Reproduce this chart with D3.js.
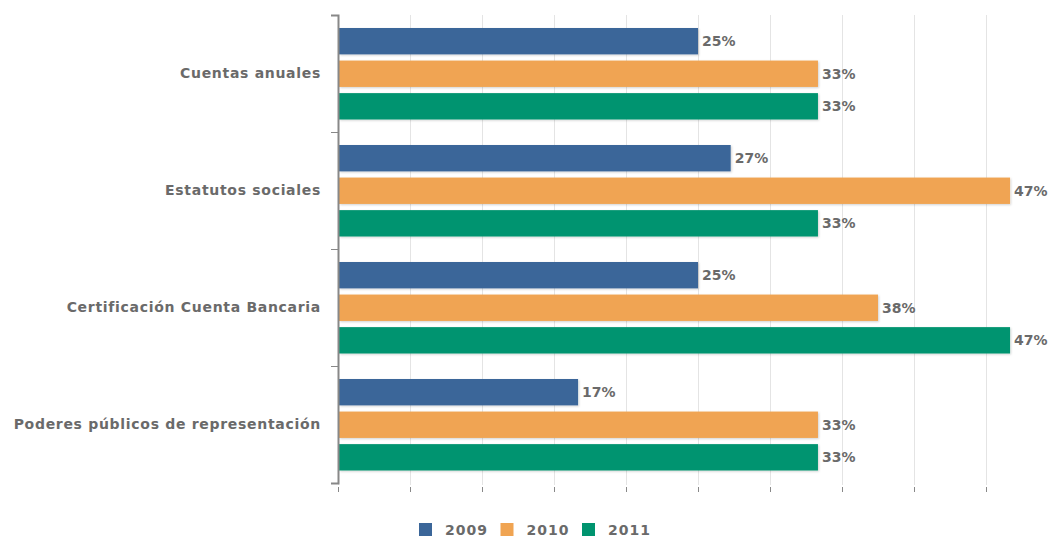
<!DOCTYPE html>
<html>
<head>
<meta charset="utf-8">
<script src="https://cdn.jsdelivr.net/npm/d3@7"></script>
<style>
  body { margin: 0; background: #fff; }
  text { font-family: "DejaVu Sans", Verdana, sans-serif; font-weight: bold; fill: #6a6a6a; }
</style>
</head>
<body>
<svg width="1048" height="538"></svg>
<script>
var categories = ["Cuentas anuales", "Estatutos sociales", "Certificación Cuenta Bancaria", "Poderes públicos de representación"];
var years = ["2009", "2010", "2011"];
var colors = ["#3b6699", "#f0a452", "#00946f"];
// percentages per year, same order as categories
var v2009 = [25, 27.27, 25, 16.67];
var v2010 = [33.33, 46.67, 37.5, 33.33];
var v2011 = [33.33, 33.33, 46.67, 33.33];
var series = [v2009, v2010, v2011];

var svg = d3.select("svg");
var mLeft = 338, mTop = 15, mBottom = 483;

var x = d3.scaleLinear().domain([0, 50]).range([mLeft, mLeft + 720]);
var y0 = d3.scaleBand().domain(categories).range([mTop, mBottom]);
var y1 = d3.scaleBand().domain(years).range([13, y0.bandwidth() - 12.5]).paddingInner(0.19);

var defs = svg.append("defs");
var f = defs.append("filter").attr("id", "shadow").attr("x", "-5%").attr("y", "-20%").attr("width", "110%").attr("height", "150%");
f.append("feDropShadow").attr("dx", 1).attr("dy", 1).attr("stdDeviation", 1)
  .attr("flood-color", "#000").attr("flood-opacity", 0.18);

// grid
svg.append("g")
  .attr("transform", "translate(0," + mBottom + ")")
  .call(d3.axisBottom(x).ticks(10).tickSize(0).tickFormat(""))
  .call(function(g) {
    g.select(".domain").remove();
    g.selectAll(".tick line").attr("y1", 2).attr("y2", -(mBottom - mTop)).attr("stroke", "#e4e4e4");
  });

// x ticks (no labels)
svg.append("g")
  .attr("transform", "translate(0,487)")
  .call(d3.axisBottom(x).ticks(10).tickSize(5).tickFormat(""))
  .call(function(g) {
    g.select(".domain").remove();
    g.selectAll(".tick line").attr("stroke", "#888");
  });

// bars
var groups = svg.selectAll(".cat")
  .data(categories)
  .enter().append("g")
  .attr("class", "cat")
  .attr("transform", function(d) { return "translate(0," + y0(d) + ")"; });

groups.each(function(cat, ci) {
  var g = d3.select(this);
  years.forEach(function(yr, si) {
    var val = series[si][ci];
    g.append("rect")
      .attr("x", x(0) + 1)
      .attr("y", y1(yr))
      .attr("width", x(val) - x(0) - 1)
      .attr("height", y1.bandwidth())
      .attr("fill", colors[si])
      .attr("filter", "url(#shadow)");
    g.append("text")
      .attr("x", x(val) + 4)
      .attr("y", y1(yr) + y1.bandwidth() / 2)
      .attr("dy", "0.35em")
      .style("font-size", "14px")
      .text(Math.round(val) + "%");
  });
});

// y axis with boundary ticks
var yb = d3.scaleLinear().domain([0, categories.length]).range([mTop, mBottom]);
svg.append("g")
  .attr("transform", "translate(" + mLeft + ",0)")
  .call(d3.axisLeft(yb).ticks(categories.length).tickSize(7).tickSizeOuter(7).tickFormat(""))
  .call(function(g) {
    g.select(".domain").attr("stroke", "#888").attr("stroke-width", 2);
    g.selectAll(".tick line").attr("stroke", "#888");
  });

svg.append("g")
  .attr("transform", "translate(" + mLeft + ",0)")
  .call(d3.axisLeft(y0).tickSize(0).tickPadding(17))
  .call(function(g) {
    g.select(".domain").remove();
    g.selectAll("text").style("font-size", "14px").style("letter-spacing", "0.7px")
      .style("font-family", "'DejaVu Sans', sans-serif").attr("fill", "#6a6a6a");
  });

// legend
var legend = svg.append("g").attr("transform", "translate(419,523)");
var item = legend.selectAll(".leg")
  .data(years)
  .enter().append("g")
  .attr("transform", function(d, i) { return "translate(" + (i * 81.5) + ",0)"; });
item.append("rect").attr("width", 13).attr("height", 13)
  .attr("fill", function(d, i) { return colors[i]; });
item.append("text").attr("x", 26).attr("y", 7).attr("dy", "0.35em")
  .style("font-size", "14px").style("letter-spacing", "1px")
  .text(function(d) { return d; });
</script>
</body>
</html>
